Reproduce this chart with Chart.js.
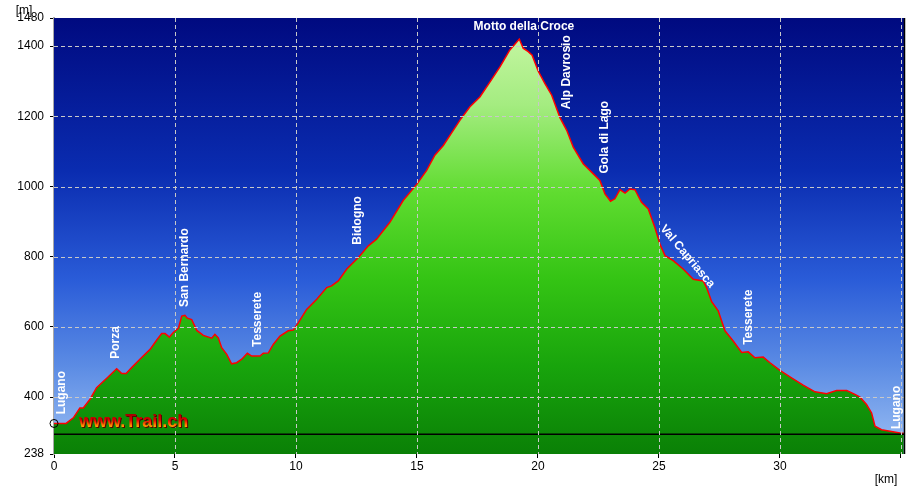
<!DOCTYPE html>
<html><head><meta charset="utf-8">
<script src="https://cdn.jsdelivr.net/npm/chart.js@4"></script>
<style>html,body{margin:0;padding:0;background:#fff;overflow:hidden}</style>
</head><body>
<canvas id="c" width="916" height="488"></canvas>
<script>
const distanceKm = [0,0.5,0.8,1.07,1.21,1.49,1.76,2.18,2.59,2.8,2.98,3.21,3.55,3.97,4.24,4.45,4.59,4.77,4.93,5.14,5.28,5.41,5.51,5.69,5.9,6.17,6.52,6.65,6.79,6.93,7.14,7.34,7.55,7.76,7.99,8.17,8.51,8.65,8.86,9.06,9.34,9.68,9.89,10.1,10.44,10.86,11.27,11.47,11.75,12.1,12.58,12.99,13.33,13.88,14.43,14.99,15.4,15.74,16.09,16.5,16.78,17.19,17.6,18.02,18.43,18.84,19.23,19.39,19.6,19.76,20.01,20.29,20.57,20.91,21.19,21.46,21.87,22.29,22.56,22.77,23.0,23.18,23.39,23.6,23.8,24.01,24.28,24.56,24.83,25.04,25.25,25.59,26.0,26.42,26.83,26.97,27.18,27.45,27.73,28.07,28.42,28.69,28.97,29.31,29.59,30.0,30.48,30.96,31.45,31.93,32.34,32.76,33.1,33.31,33.58,33.79,33.93,34.2,34.55,34.96,35.12];
const elevationM = [325,325,341,369,369,394,427,454,481,467,467,484,508,536,562,581,581,571,584,596,631,633,625,621,590,576,568,579,569,541,522,495,498,508,525,517,517,525,526,550,574,589,591,612,650,679,712,717,731,765,798,831,850,898,960,1006,1046,1089,1117,1160,1189,1227,1255,1298,1341,1389,1420,1394,1384,1374,1329,1293,1260,1196,1160,1112,1065,1036,1017,979,958,965,991,981,993,991,955,936,884,836,803,789,765,736,731,712,672,646,589,560,527,529,512,514,498,476,455,434,415,410,419,419,408,400,379,355,317,307,303,298,297];
const baselineM = 294;
const xMinKm = 0, xMaxKm = 35.17;
const yMinM = 238, yMaxM = 1480;
const yTickValues = [238,400,600,800,1000,1200,1400,1480];
const yGridValues = [400,600,800,1000,1200,1400];
const xTickValues = [0,5,10,15,20,25,30,35];
const xLabelValues = [0,5,10,15,20,25,30];
const xGridValues = [5,10,15,20,25,30,35];
const waypointNames = ['Lugano','Porza','San Bernardo','Tesserete','Bidogno','Motto della Croce','Alp Davrosio','Gola di Lago','Val Capriasca','Tesserete','Lugano'];
const waypointKm   = [0.3,2.56,5.41,8.43,12.56,19.42,21.2,22.77,25.33,28.72,34.83];
const waypointM    = [351,509,657,543,834,1456,1220,1037,897,549,309];
const waypointAngle= [-90,-90,-90,-90,-90,0,-90,-90,50,-90,-90];
const yUnit = '[m]', xUnit = '[km]', watermark = 'www.Trail.ch';

const LABEL_FONT = 'bold 12px "Liberation Sans", Arial, sans-serif';

const decor = {
  id: 'decor',
  beforeDatasetsDraw(chart) {
    const {ctx, chartArea: a} = chart;
    const g = ctx.createLinearGradient(0, a.top, 0, a.bottom);
    g.addColorStop(0, '#000a80');
    g.addColorStop(0.35, '#0a2cb0');
    g.addColorStop(0.6, '#2a5cd8');
    g.addColorStop(0.8, '#5c8ce4');
    g.addColorStop(1, '#9cc0f4');
    ctx.save();
    ctx.fillStyle = g;
    ctx.fillRect(a.left, a.top, a.right - a.left, a.bottom - a.top);
    ctx.restore();
  },
  afterDatasetsDraw(chart) {
    const {ctx, chartArea: a, scales: {x, y}} = chart;
    ctx.save();
    // dashed grid over the fill
    ctx.strokeStyle = '#c8c8c8';
    ctx.lineWidth = 1;
    ctx.setLineDash([4, 3]);
    yGridValues.forEach(v => {
      const py = Math.round(y.getPixelForValue(v)) + 0.5;
      ctx.beginPath(); ctx.moveTo(a.left, py); ctx.lineTo(a.right, py); ctx.stroke();
    });
    xGridValues.forEach(v => {
      const px = Math.round(x.getPixelForValue(v)) + 0.5;
      ctx.beginPath(); ctx.moveTo(px, a.top); ctx.lineTo(px, a.bottom); ctx.stroke();
    });
    ctx.setLineDash([]);
    // right border
    ctx.strokeStyle = '#000';
    ctx.lineWidth = 1.5;
    ctx.beginPath(); ctx.moveTo(a.right - 0.5, a.top); ctx.lineTo(a.right - 0.5, a.bottom); ctx.stroke();
    // waypoint labels
    ctx.fillStyle = '#fff';
    ctx.font = LABEL_FONT;
    waypointNames.forEach((name, i) => {
      const px = x.getPixelForValue(waypointKm[i]);
      const py = y.getPixelForValue(waypointM[i]);
      const ang = waypointAngle[i];
      ctx.save();
      ctx.translate(px, py);
      if (ang === 0) {
        ctx.textAlign = 'center'; ctx.textBaseline = 'middle';
      } else if (ang === -90) {
        ctx.rotate(-Math.PI / 2);
        ctx.textAlign = 'left'; ctx.textBaseline = 'middle';
      } else {
        ctx.rotate(ang * Math.PI / 180);
        ctx.textAlign = 'left'; ctx.textBaseline = 'top';
      }
      ctx.fillText(name, 0, 0);
      ctx.restore();
    });
    // watermark
    ctx.font = 'bold 18px "Liberation Sans", Arial, sans-serif';
    ctx.textAlign = 'left'; ctx.textBaseline = 'middle';
    const wx = a.left + 25, wy = a.bottom - 32;
    const wg = ctx.createLinearGradient(0, wy - 8, 0, wy + 7);
    wg.addColorStop(0, '#a00000');
    wg.addColorStop(0.4, '#e00000');
    wg.addColorStop(0.7, '#ff7000');
    wg.addColorStop(1, '#ffe000');
    ctx.fillStyle = '#5a0000';
    ctx.fillText(watermark, wx + 1, wy + 1);
    ctx.fillStyle = wg;
    ctx.fillText(watermark, wx, wy);
    // unit labels
    ctx.fillStyle = '#000';
    ctx.font = '12px "Liberation Sans", Arial, sans-serif';
    ctx.textAlign = 'center'; ctx.textBaseline = 'middle';
    ctx.fillText(yUnit, a.left - 30, a.top - 7);
    ctx.fillText(xUnit, a.right - 19, a.bottom + 26);
    ctx.restore();
  }
};

new Chart(document.getElementById('c'), {
  type: 'line',
  data: {
    datasets: [
      {
        data: distanceKm.map((d, i) => ({x: d, y: elevationM[i]})),
        borderColor: '#ff0000',
        borderWidth: 1.5,
        tension: 0,
        fill: 'start',
        backgroundColor(ctx) {
          const a = ctx.chart.chartArea;
          if (!a) return '#20a010';
          const g = ctx.chart.ctx.createLinearGradient(0, a.top, 0, a.bottom);
          g.addColorStop(0, '#ccf8aa');
          g.addColorStop(0.2, '#a4ec80');
          g.addColorStop(0.4, '#60dc30');
          g.addColorStop(0.6, '#34c414');
          g.addColorStop(0.8, '#18a40c');
          g.addColorStop(1, '#0a8006');
          return g;
        },
        pointRadius: ctx => ctx.dataIndex === 0 ? 4 : 0,
        pointBorderColor: '#000',
        pointBorderWidth: 1,
        pointBackgroundColor: 'rgba(0,0,0,0)',
        clip: false,
        order: 2
      },
      {
        data: [{x: xMinKm, y: baselineM}, {x: xMaxKm, y: baselineM}],
        borderColor: '#000',
        borderWidth: 1.5,
        pointRadius: 0,
        fill: false,
        order: 1
      }
    ]
  },
  options: {
    responsive: false,
    animation: false,
    devicePixelRatio: 1,
    layout: {padding: {top: 18, right: 11, left: 0, bottom: 0}},
    plugins: {legend: {display: false}, tooltip: {enabled: false}},
    scales: {
      x: {
        type: 'linear', min: xMinKm, max: xMaxKm,
        afterBuildTicks: s => { s.ticks = xTickValues.map(v => ({value: v})); },
        afterFit: s => { s.height = 34; },
        grid: {drawOnChartArea: false, drawTicks: true, tickLength: 4, tickColor: '#000'},
        border: {display: false},
        ticks: {
          color: '#000', padding: 1, maxRotation: 0, autoSkip: false,
          font: {family: '"Liberation Sans", Arial, sans-serif', size: 12},
          callback: v => xLabelValues.includes(v) ? String(v) : ''
        }
      },
      y: {
        type: 'linear', min: yMinM, max: yMaxM,
        afterBuildTicks: s => { s.ticks = yTickValues.map(v => ({value: v})); },
        afterFit: s => { s.width = 54; },
        grid: {drawOnChartArea: false, drawTicks: true, tickLength: 4, tickColor: '#000'},
        border: {display: true, color: '#a8a8a8', width: 2},
        ticks: {
          color: '#000', padding: 6, autoSkip: false,
          font: {family: '"Liberation Sans", Arial, sans-serif', size: 12},
          callback: v => String(v)
        }
      }
    }
  },
  plugins: [decor]
});
</script>
</body></html>
